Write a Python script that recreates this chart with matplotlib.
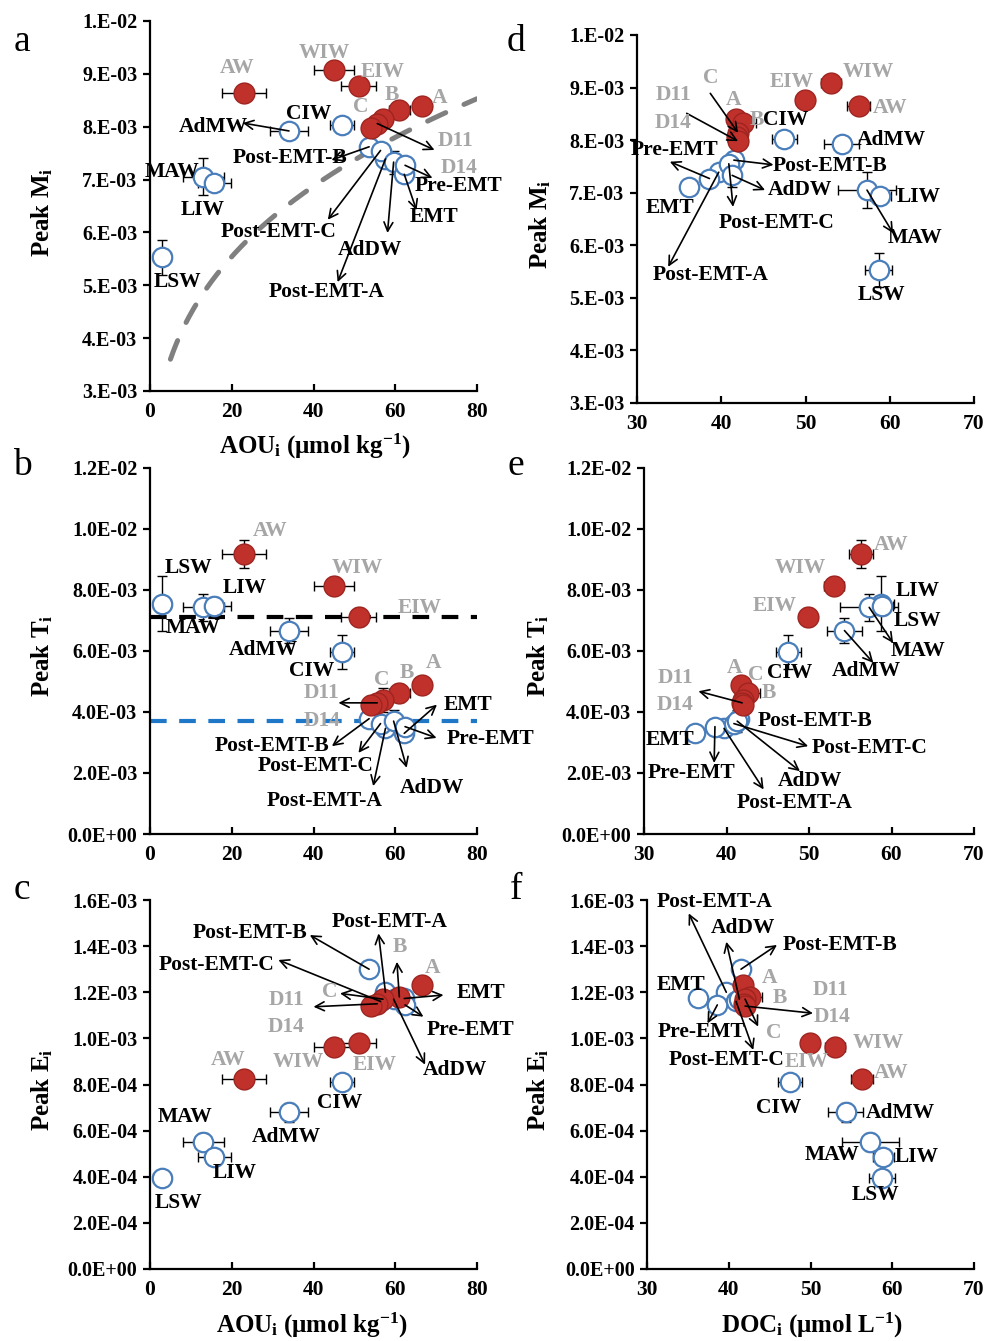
import numpy as np
import matplotlib
matplotlib.use('Agg')
import matplotlib.pyplot as plt

plt.rcParams['font.family'] = ['Liberation Serif', 'DejaVu Serif']
plt.rcParams['font.weight'] = 'bold'
plt.rcParams['mathtext.fontset'] = 'custom'
plt.rcParams['mathtext.rm'] = 'Liberation Serif:bold'
plt.rcParams['mathtext.it'] = 'Liberation Serif:bold'
plt.rcParams['mathtext.bf'] = 'Liberation Serif:bold'

# water masses: first 8 are the red (filled) group
names = ['AW', 'WIW', 'EIW', 'A', 'B', 'C', 'D11', 'D14',
         'LSW', 'MAW', 'LIW', 'AdMW', 'CIW', 'Post-EMT-A', 'Post-EMT-B',
         'Post-EMT-C', 'AdDW', 'EMT', 'Pre-EMT']
red_names = names[:8]

aou = np.array([23.0, 45.0, 51.1, 66.5, 61.0, 57.0, 55.6, 54.0,
                3.0, 13.0, 15.7, 34.0, 47.0, 57.6, 53.6, 56.4, 59.6, 62.2, 62.4])
aou_err = np.array([5.3, 5.0, 4.3, 0.0, 2.5, 2.0, 2.0, 2.0,
                    2.2, 5.0, 4.0, 4.7, 3.0, 1.5, 1.5, 1.5, 2.0, 1.5, 1.5])
doc = np.array([56.3, 53.0, 49.9, 41.8, 42.6, 42.0, 41.9, 42.0,
                58.7, 57.3, 58.9, 54.3, 47.5, 39.7, 41.5, 40.9, 41.3, 36.2, 38.6])
doc_err = np.array([1.4, 1.2, 1.0, 1.0, 1.5, 1.0, 1.0, 1.0,
                    1.6, 3.5, 1.3, 2.1, 1.5, 0.5, 0.5, 0.5, 0.5, 0.5, 0.5])
peak_m = np.array([8.64, 9.08, 8.77, 8.40, 8.32, 8.14, 8.06, 7.98,
                   5.53, 7.05, 6.93, 7.92, 8.03, 7.39, 7.62, 7.55, 7.33, 7.10, 7.27]) * 1e-3
peak_m_err = np.array([0.12, 0.06, 0.08, 0.05, 0.10, 0.12, 0.10, 0.10,
                       0.33, 0.35, 0.15, 0.15, 0.06, 0.10, 0.08, 0.10, 0.22, 0.08, 0.08]) * 1e-3
peak_t = np.array([9.18, 8.14, 7.12, 4.88, 4.62, 4.40, 4.30, 4.22,
                   7.55, 7.43, 7.48, 6.67, 5.97, 3.46, 3.78, 3.62, 3.70, 3.30, 3.52]) * 1e-3
peak_t_err = np.array([0.45, 0.28, 0.30, 0.10, 0.30, 0.40, 0.30, 0.30,
                       0.90, 0.45, 0.30, 0.40, 0.55, 0.20, 0.15, 0.20, 0.35, 0.25, 0.20]) * 1e-3
peak_e = np.array([8.22, 9.62, 9.78, 12.3, 11.8, 11.7, 11.5, 11.4,
                   3.95, 5.50, 4.85, 6.79, 8.12, 12.0, 13.0, 11.6, 11.7, 11.73, 11.45]) * 1e-4
peak_e_err = np.array([0.30, 0.30, 0.30, 0.20, 0.30, 0.30, 0.30, 0.30,
                       0.25, 0.40, 0.20, 0.40, 0.30, 0.30, 0.30, 0.30, 0.30, 0.30, 0.30]) * 1e-4

# trendline in panel a (power fit)
trend_c = 2.183e-3
trend_p = 0.311
trend_range = (5, 80)

# horizontal reference lines in panel b
t_line_black = 7.1e-3
t_line_blue = 3.7e-3

m_ticklabels = ['3.E-03', '4.E-03', '5.E-03', '6.E-03', '7.E-03', '8.E-03', '9.E-03', '1.E-02']
t_ticklabels = ['0.0E+00', '2.0E-03', '4.0E-03', '6.0E-03', '8.0E-03', '1.0E-02', '1.2E-02']
e_ticklabels = ['0.0E+00', '2.0E-04', '4.0E-04', '6.0E-04', '8.0E-04', '1.0E-03',
                '1.2E-03', '1.4E-03', '1.6E-03']

# label positions: name -> (text x, text y, arrow end x, arrow end y[, arrow points to data])
lab_a = {'AW': (21.2, 9.11e-3), 'WIW': (42.7, 9.39e-3), 'EIW': (56.9, 9.04e-3),
         'B': (59.1, 8.60e-3), 'A': (70.8, 8.54e-3), 'C': (51.5, 8.37e-3),
         'D11': (74.7, 7.73e-3, 69.6, 7.56e-3), 'D14': (75.7, 7.22e-3),
         'CIW': (38.8, 8.24e-3), 'AdMW': (15.4, 7.99e-3, 22.7, 8.07e-3),
         'Post-EMT-B': (34.2, 7.41e-3, 44.4, 7.37e-3), 'MAW': (5.4, 7.14e-3),
         'LIW': (12.9, 6.42e-3), 'LSW': (6.8, 5.06e-3),
         'Post-EMT-C': (31.5, 6.0e-3, 43.5, 6.24e-3), 'AdDW': (53.7, 5.67e-3, 58.1, 5.99e-3),
         'Post-EMT-A': (43.2, 4.87e-3, 45.9, 5.06e-3), 'EMT': (69.6, 6.29e-3, 65.2, 6.42e-3),
         'Pre-EMT': (75.4, 6.88e-3, 69.1, 7.03e-3)}
lab_d = {'WIW': (57.5, 9.30e-3), 'EIW': (48.4, 9.11e-3), 'AW': (60.0, 8.61e-3),
         'C': (38.7, 9.18e-3, 38.7, 8.89e-3, True), 'A': (41.4, 8.76e-3), 'B': (44.2, 8.38e-3),
         'D11': (34.3, 8.86e-3), 'D14': (34.3, 8.32e-3, 35.9, 8.51e-3, True),
         'CIW': (47.6, 8.38e-3), 'AdMW': (60.2, 8.0e-3),
         'Pre-EMT': (34.5, 7.81e-3, 33.9, 7.59e-3), 'Post-EMT-B': (52.9, 7.51e-3, 46.2, 7.53e-3),
         'EMT': (33.9, 6.70e-3), 'AdDW': (49.3, 7.05e-3, 45.2, 7.05e-3),
         'Post-EMT-C': (46.6, 6.42e-3, 41.4, 6.73e-3), 'Post-EMT-A': (38.7, 5.43e-3, 33.7, 5.59e-3),
         'LIW': (63.4, 6.92e-3), 'MAW': (63.0, 6.13e-3, 60.4, 6.23e-3), 'LSW': (59.0, 5.05e-3)}
lab_b = {'AW': (29.4, 9.92e-3), 'LSW': (9.4, 8.72e-3), 'LIW': (23.2, 8.06e-3),
         'WIW': (50.6, 8.72e-3), 'EIW': (66.1, 7.41e-3), 'MAW': (10.6, 6.75e-3),
         'AdMW': (27.7, 6.04e-3), 'CIW': (39.6, 5.33e-3), 'A': (69.3, 5.61e-3),
         'B': (62.8, 5.28e-3), 'C': (56.7, 5.06e-3), 'D11': (42.0, 4.62e-3, 46.1, 4.30e-3),
         'D14': (42.0, 3.70e-3), 'EMT': (77.8, 4.24e-3, 70.2, 4.24e-3),
         'Pre-EMT': (83.4, 3.10e-3, 70.1, 3.15e-3), 'Post-EMT-B': (29.8, 2.88e-3, 44.5, 2.88e-3),
         'Post-EMT-C': (40.4, 2.22e-3, 51.0, 2.66e-3), 'Post-EMT-A': (42.8, 1.08e-3, 54.6, 1.57e-3),
         'AdDW': (68.9, 1.52e-3, 62.8, 2.17e-3)}
lab_e = {'AW': (60.0, 9.48e-3), 'WIW': (48.9, 8.72e-3), 'EIW': (45.9, 7.48e-3),
         'LIW': (63.2, 7.98e-3), 'LSW': (63.2, 6.97e-3), 'MAW': (63.2, 5.99e-3, 60.2, 6.26e-3),
         'AdMW': (57.0, 5.33e-3, 57.8, 5.61e-3), 'CIW': (47.7, 5.28e-3), 'A': (41.0, 5.44e-3),
         'C': (43.5, 5.22e-3), 'B': (45.1, 4.62e-3), 'D11': (33.8, 5.11e-3, 36.6, 4.68e-3),
         'D14': (33.8, 4.24e-3), 'EMT': (33.2, 3.07e-3), 'Pre-EMT': (35.8, 2.0e-3, 38.5, 2.33e-3),
         'Post-EMT-B': (50.7, 3.70e-3), 'Post-EMT-C': (57.4, 2.83e-3, 49.9, 2.88e-3),
         'AdDW': (50.1, 1.73e-3, 48.9, 2.06e-3), 'Post-EMT-A': (48.3, 1.02e-3, 44.5, 1.46e-3)}
lab_c = {'Post-EMT-B': (24.5, 14.55e-4, 39.1, 14.48e-4), 'Post-EMT-A': (58.7, 15.06e-4, 55.9, 14.55e-4),
         'Post-EMT-C': (16.3, 13.18e-4, 31.4, 13.4e-4), 'B': (61.2, 13.97e-4, 60.4, 13.32e-4),
         'A': (69.2, 13.04e-4), 'EMT': (81.0, 11.97e-4, 71.8, 11.88e-4),
         'C': (44.0, 12.02e-4, 46.5, 11.95e-4), 'D11': (33.4, 11.66e-4, 40.0, 11.37e-4),
         'D14': (33.4, 10.5e-4), 'Pre-EMT': (78.5, 10.36e-4, 66.9, 10.94e-4),
         'AdDW': (74.6, 8.63e-4, 67.3, 8.86e-4), 'WIW': (36.3, 8.99e-4), 'EIW': (55.0, 8.84e-4),
         'AW': (19.2, 9.06e-4), 'CIW': (46.5, 7.18e-4), 'AdMW': (33.4, 5.74e-4),
         'MAW': (8.6, 6.6e-4), 'LIW': (20.8, 4.15e-4), 'LSW': (6.9, 2.85e-4)}
lab_f = {'Post-EMT-A': (38.3, 15.93e-4, 35.1, 15.42e-4), 'AdDW': (41.8, 14.77e-4, 39.7, 14.19e-4),
         'Post-EMT-B': (53.6, 14.05e-4, 45.9, 14.05e-4), 'EMT': (34.2, 12.31e-4),
         'A': (45.0, 12.6e-4), 'B': (46.3, 11.74e-4), 'D11': (52.4, 12.1e-4),
         'D14': (52.6, 10.94e-4, 50.3, 11.09e-4), 'C': (45.5, 10.22e-4, 43.6, 10.51e-4),
         'Pre-EMT': (36.7, 10.29e-4, 37.4, 10.65e-4), 'Post-EMT-C': (39.7, 9.06e-4, 43.0, 9.5e-4),
         'EIW': (49.5, 8.99e-4), 'WIW': (58.3, 9.78e-4), 'AW': (59.9, 8.48e-4),
         'CIW': (46.1, 6.97e-4), 'AdMW': (61.0, 6.78e-4), 'MAW': (52.6, 4.94e-4),
         'LIW': (63.0, 4.87e-4), 'LSW': (57.9, 3.21e-4)}

W, H = 985, 1341
fig = plt.figure(figsize=(W / 100, H / 100), dpi=100)


def px_axes(l, t, r, b):
    return fig.add_axes([l / W, 1 - b / H, (r - l) / W, (b - t) / H])


def fig_text(x, y, s, **kw):
    fig.text(x / W, 1 - y / H, s, ha='center', va='center', **kw)


RED = '#C1312C'
BLUE = '#4A7EBB'
GRAY = '#A6A6A6'


def draw(ax, x, xerr, y, yerr, labels):
    idx_open = [i for i, n in enumerate(names) if n not in red_names]
    idx_red = [i for i, n in enumerate(names) if n in red_names]
    ax.errorbar(x, y, xerr=xerr, yerr=yerr, fmt='none', ecolor='black',
                elinewidth=1, capsize=3.5, capthick=1, zorder=2)
    ax.plot(x[idx_open], y[idx_open], 'o', ms=14, mfc='white', mec=BLUE,
            mew=1.6, ls='none', zorder=3)
    ax.plot(x[idx_red], y[idx_red], 'o', ms=15, mfc=RED, mec='#9E2420',
            mew=1.0, ls='none', zorder=4)
    for n, spec in labels.items():
        i = names.index(n)
        col = GRAY if n in red_names else 'black'
        ax.text(spec[0], spec[1], n, color=col, fontsize=15.5, fontweight='bold',
                ha='center', va='center', zorder=6)
        if len(spec) >= 4:
            rev = len(spec) == 5 and spec[4]
            p, q = (x[i], y[i]), (spec[2], spec[3])
            if rev:
                p, q = q, p
            ax.annotate('', xy=q, xytext=p, annotation_clip=False, zorder=5,
                        arrowprops=dict(arrowstyle='->', color='black', lw=1.2,
                                        shrinkA=0, shrinkB=0, mutation_scale=16))


def style(ax, xlim, xticks, ylim, yticks, yticklabels):
    ax.set_xlim(*xlim)
    ax.set_ylim(*ylim)
    ax.set_xticks(xticks)
    ax.set_xticklabels([str(v) for v in xticks], fontsize=15.5, fontweight='bold')
    ax.set_yticks(yticks)
    ax.set_yticklabels(yticklabels, fontsize=14.5, fontweight='bold')
    for s in ['top', 'right']:
        ax.spines[s].set_visible(False)
    for s in ['left', 'bottom']:
        ax.spines[s].set_linewidth(1.6)
    ax.tick_params(axis='y', direction='out', length=5, width=1.6, pad=4)
    ax.tick_params(axis='x', direction='in', length=5, width=1.6, pad=8)
    ax.patch.set_alpha(0)


m_ticks = np.arange(3, 11) * 1e-3
t_ticks = np.arange(0, 7) * 2e-3
e_ticks = np.arange(0, 9) * 2e-4

# panel a
ax = px_axes(150, 21, 477, 391)
xs = np.linspace(trend_range[0], trend_range[1], 200)
ax.plot(xs, trend_c * xs ** trend_p, color='#808080', lw=3.6, dashes=(4, 4),
        dash_capstyle='round', zorder=1)
draw(ax, aou, aou_err, peak_m, peak_m_err, lab_a)
style(ax, (0, 80), [0, 20, 40, 60, 80], (3e-3, 1e-2), m_ticks, m_ticklabels)

# panel d
ax = px_axes(637, 35, 974, 403)
draw(ax, doc, doc_err, peak_m, peak_m_err, lab_d)
style(ax, (30, 70), [30, 40, 50, 60, 70], (3e-3, 1e-2), m_ticks, m_ticklabels)

# panel b
ax = px_axes(150, 468, 477, 834)
ax.axhline(t_line_black, color='black', lw=3, dashes=(4, 3), zorder=1)
ax.axhline(t_line_blue, color='#1F77C8', lw=3, dashes=(4, 3), zorder=1)
draw(ax, aou, aou_err, peak_t, peak_t_err, lab_b)
style(ax, (0, 80), [0, 20, 40, 60, 80], (0, 1.2e-2), t_ticks, t_ticklabels)

# panel e
ax = px_axes(644, 468, 974, 834)
draw(ax, doc, doc_err, peak_t, peak_t_err, lab_e)
style(ax, (30, 70), [30, 40, 50, 60, 70], (0, 1.2e-2), t_ticks, t_ticklabels)

# panel c
ax = px_axes(150, 900, 477, 1269)
draw(ax, aou, aou_err, peak_e, peak_e_err, lab_c)
style(ax, (0, 80), [0, 20, 40, 60, 80], (0, 1.6e-3), e_ticks, e_ticklabels)

# panel f
ax = px_axes(647, 900, 974, 1269)
draw(ax, doc, doc_err, peak_e, peak_e_err, lab_f)
style(ax, (30, 70), [30, 40, 50, 60, 70], (0, 1.6e-3), e_ticks, e_ticklabels)

# axis titles and panel letters
fig_text(315, 446, 'AOU$_{i}$ (μmol kg$^{-1}$)', fontsize=18, fontweight='bold')
fig_text(312, 1325, 'AOU$_{i}$ (μmol kg$^{-1}$)', fontsize=18, fontweight='bold')
fig_text(812, 1325, 'DOC$_{i}$ (μmol L$^{-1}$)', fontsize=18, fontweight='bold')
for xp, yp, s in [(42, 212, 'Peak M$_{i}$'), (540, 224, 'Peak M$_{i}$'),
                  (42, 656, 'Peak T$_{i}$'), (538, 656, 'Peak T$_{i}$'),
                  (42, 1090, 'Peak E$_{i}$'), (538, 1090, 'Peak E$_{i}$')]:
    fig_text(xp, yp, s, fontsize=18, fontweight='bold', rotation=90)
for xp, yp, s in [(22, 42, 'a'), (516, 42, 'd'), (22, 466, 'b'),
                  (516, 466, 'e'), (22, 890, 'c'), (516, 890, 'f')]:
    fig_text(xp, yp, s, fontsize=27, fontweight='normal')

fig.savefig('out.png', dpi=100)
